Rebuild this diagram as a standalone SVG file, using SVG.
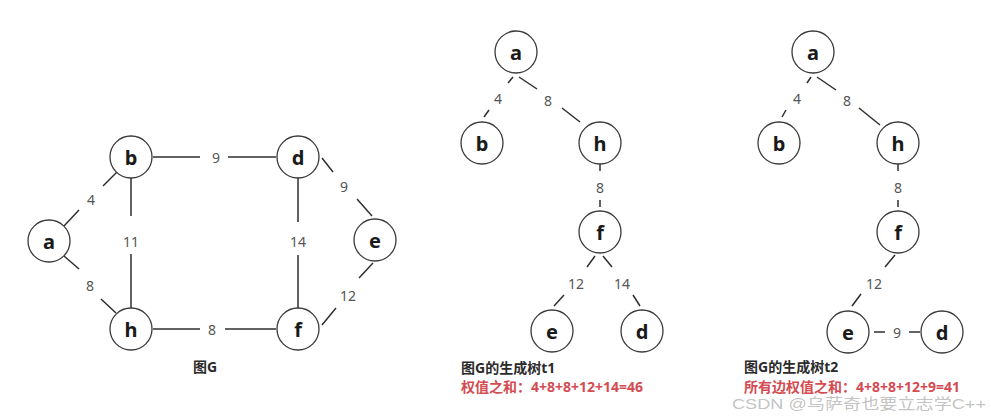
<svg xmlns="http://www.w3.org/2000/svg" width="991" height="419" viewBox="0 0 991 419">
<style>
.n circle{fill:#fff;stroke:#3a3a3a;stroke-width:1.3}
.n text{font-family:"Noto Sans","Open Sans",sans-serif;font-weight:bold;font-size:20px;fill:#1a1a1a;text-anchor:middle;dominant-baseline:central}
#edges line{stroke:#2e2e2e;stroke-width:1.5;stroke-linecap:butt}
.w{font-family:"Noto Sans","Open Sans",sans-serif;font-size:14px;fill:#555;text-anchor:middle;dominant-baseline:central}
.cap{font-family:"Noto Sans","Noto Sans CJK SC",sans-serif;font-weight:bold;font-size:14px;fill:#2b2b2b}
.red{font-family:"Noto Sans","Noto Sans CJK SC",sans-serif;font-weight:bold;font-size:14px;fill:#d34c52}
.wm{font-family:"Liberation Sans","Noto Sans CJK SC",sans-serif;font-size:15px;fill:#b8b8b8;fill-opacity:0.85}
</style>
<rect width="991" height="419" fill="#fff"/>
<g id="edges">
  <!-- Graph G -->
  <line x1="64" y1="226" x2="79" y2="210"/><line x1="103" y1="186" x2="117" y2="172"/>
  <line x1="64" y1="256" x2="79" y2="269"/><line x1="101" y1="299" x2="116" y2="313"/>
  <line x1="153" y1="157" x2="200" y2="157"/><line x1="228" y1="157" x2="276" y2="157"/>
  <line x1="131" y1="178" x2="131" y2="216"/><line x1="131" y1="254" x2="131" y2="308"/>
  <line x1="298" y1="178" x2="298" y2="222"/><line x1="298" y1="255" x2="298" y2="308"/>
  <line x1="153" y1="329" x2="200" y2="329"/><line x1="225" y1="329" x2="276" y2="329"/>
  <line x1="322" y1="158" x2="333" y2="172"/><line x1="357" y1="199" x2="372" y2="216"/>
  <line x1="373" y1="263" x2="359" y2="278"/><line x1="336" y1="308" x2="322" y2="325"/>
  <!-- Tree t1 -->
  <line x1="513" y1="77" x2="508" y2="83"/><line x1="489" y1="110" x2="484" y2="117"/>
  <line x1="519" y1="77" x2="537" y2="89"/><line x1="562" y1="108" x2="580" y2="122"/>
  <line x1="600" y1="164" x2="600" y2="171"/><line x1="600" y1="200" x2="600" y2="207"/>
  <line x1="595" y1="256" x2="587" y2="267"/><line x1="564" y1="295" x2="554" y2="306"/>
  <line x1="603" y1="256" x2="612" y2="267"/><line x1="633" y1="295" x2="640" y2="306"/>
  <!-- Tree t2 -->
  <line x1="811" y1="77" x2="807" y2="83"/><line x1="786" y1="110" x2="782" y2="117"/>
  <line x1="817" y1="77" x2="836" y2="90"/><line x1="859" y1="108" x2="880" y2="125"/>
  <line x1="898" y1="164" x2="898" y2="171"/><line x1="898" y1="200" x2="898" y2="207"/>
  <line x1="895" y1="255" x2="885" y2="267"/><line x1="861" y1="294" x2="852" y2="306"/>
  <line x1="874" y1="332" x2="885" y2="332"/><line x1="909" y1="332" x2="920" y2="332"/>
</g>
<g id="weights">
  <text class="w" x="91" y="199">4</text>
  <text class="w" x="90" y="285">8</text>
  <text class="w" x="216" y="157">9</text>
  <text class="w" x="131" y="241">11</text>
  <text class="w" x="298" y="241">14</text>
  <text class="w" x="212" y="329">8</text>
  <text class="w" x="344" y="186">9</text>
  <text class="w" x="348" y="295">12</text>

  <text class="w" x="498" y="98">4</text>
  <text class="w" x="548" y="100">8</text>
  <text class="w" x="600" y="187">8</text>
  <text class="w" x="576" y="283">12</text>
  <text class="w" x="622" y="283">14</text>

  <text class="w" x="797" y="98">4</text>
  <text class="w" x="847" y="100">8</text>
  <text class="w" x="898" y="187">8</text>
  <text class="w" x="874" y="283">12</text>
  <text class="w" x="897" y="332">9</text>
</g>
<!-- Graph G nodes -->
<g id="G-a" class="n"><circle cx="49" cy="241" r="21"/><text x="49" y="241">a</text></g>
<g id="G-b" class="n"><circle cx="131" cy="157" r="21"/><text x="131" y="157">b</text></g>
<g id="G-d" class="n"><circle cx="298" cy="157" r="21"/><text x="298" y="157">d</text></g>
<g id="G-e" class="n"><circle cx="375" cy="240" r="21"/><text x="375" y="240">e</text></g>
<g id="G-h" class="n"><circle cx="131" cy="329" r="21"/><text x="131" y="329">h</text></g>
<g id="G-f" class="n"><circle cx="298" cy="329" r="21"/><text x="298" y="329">f</text></g>
<!-- Tree t1 nodes -->
<g id="t1-a" class="n"><circle cx="516" cy="52" r="21"/><text x="516" y="52">a</text></g>
<g id="t1-b" class="n"><circle cx="482" cy="143" r="21"/><text x="482" y="143">b</text></g>
<g id="t1-h" class="n"><circle cx="600" cy="143" r="21"/><text x="600" y="143">h</text></g>
<g id="t1-f" class="n"><circle cx="600" cy="232" r="21"/><text x="600" y="232">f</text></g>
<g id="t1-e" class="n"><circle cx="552" cy="331" r="21"/><text x="552" y="331">e</text></g>
<g id="t1-d" class="n"><circle cx="642" cy="331" r="21"/><text x="642" y="331">d</text></g>
<!-- Tree t2 nodes -->
<g id="t2-a" class="n"><circle cx="813" cy="52" r="21"/><text x="813" y="52">a</text></g>
<g id="t2-b" class="n"><circle cx="779" cy="143" r="21"/><text x="779" y="143">b</text></g>
<g id="t2-h" class="n"><circle cx="898" cy="143" r="21"/><text x="898" y="143">h</text></g>
<g id="t2-f" class="n"><circle cx="898" cy="232" r="21"/><text x="898" y="232">f</text></g>
<g id="t2-e" class="n"><circle cx="848" cy="332" r="21"/><text x="848" y="332">e</text></g>
<g id="t2-d" class="n"><circle cx="942" cy="332" r="21"/><text x="942" y="332">d</text></g>
<g id="captions">
  <text class="cap" x="205" y="372" text-anchor="middle">图G</text>
  <text class="cap" x="461" y="373">图G的生成树t1</text>
  <text class="red" x="461" y="392">权值之和：4+8+8+12+14=46</text>
  <text class="cap" x="744" y="372">图G的生成树t2</text>
  <text class="red" x="744" y="392">所有边权值之和：4+8+8+12+9=41</text>
  <text class="wm" x="732" y="409" textLength="254" lengthAdjust="spacingAndGlyphs">CSDN @乌萨奇也要立志学C++</text>
</g>
</svg>
